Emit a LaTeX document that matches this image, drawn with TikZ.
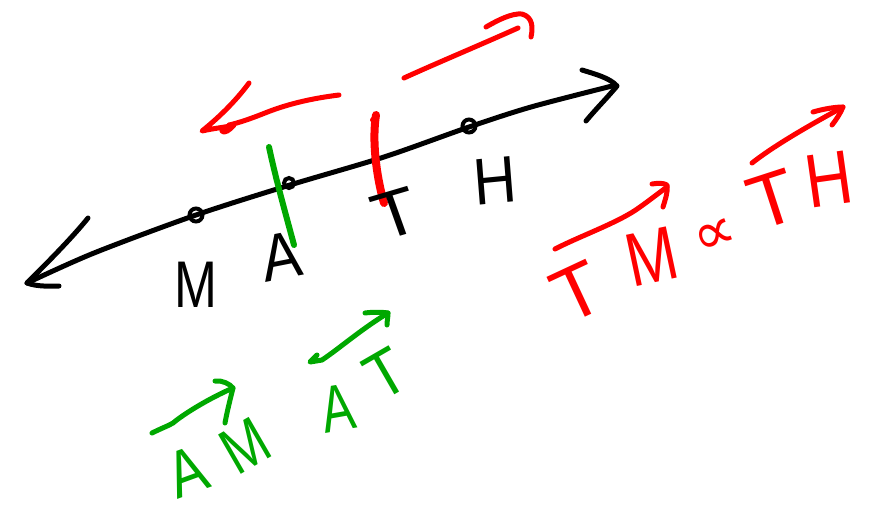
\documentclass[tikz,border=0pt]{standalone}
\usepackage{fontspec}
\setmainfont{Liberation Sans}
\newfontfamily\symfont{DejaVu Sans}
\definecolor{penred}{RGB}{255,0,0}
\definecolor{pengreen}{RGB}{0,168,0}
\tikzset{
  ink/.style={line width=5pt, line cap=round, line join=round},
  blk/.style={ink, black},
  rd/.style={ink, penred},
  gr/.style={ink, pengreen},
  lettr/.style={inner sep=0pt, font=\fontsize{66}{66}\selectfont},
  biglettr/.style={inner sep=0pt, font=\fontsize{76}{76}\selectfont},
  ptdot/.style={circle, draw=black, line width=4pt, inner sep=0pt, minimum size=13pt}
}
\begin{document}
\begin{tikzpicture}[x=1pt,y=-1pt]
\useasboundingbox (0,0) rectangle (872,512);
% main line
\draw[blk] plot[smooth] coordinates {(27,283) (94,253) (196,215) (290,185) (384,157) (469,127) (531,107) (612,86)};
% arrowheads
\draw[blk] (88,218) .. controls (72,238) and (45,265) .. (27,283) .. controls (38,287) and (50,286) .. (59,286);
\draw[blk] (582,70) .. controls (595,74) and (610,78) .. (617,86) .. controls (607,98) and (595,110) .. (586,121);
% points
\node[ptdot] (M) at (196,215) {};
\node[ptdot, minimum size=10pt] (A) at (289,183) {};
\node[ptdot] (H) at (469,126) {};
% ticks
\draw[gr, line width=6pt] (269,147) .. controls (276,180) and (286,215) .. (294,245);
\draw[rd, line width=8pt] (376,115) .. controls (372,140) and (376,175) .. (384,203);
\draw[rd, line width=4pt] (372,120) -- (377,114);
% letters on the line
\node[lettr, xscale=0.78] (tM) at (196,285) {M};
\node[lettr, xscale=0.9, rotate=10] (tA) at (281,256) {A};
\node[lettr, xscale=1.1, rotate=18] (tT) at (396,214) {T};
\node[lettr, xscale=0.9, rotate=5] (tH) at (495,181) {H};
% red arrows above the line
\draw[rd] (339,95) .. controls (315,98) and (290,103) .. (265,113) .. controls (250,119) and (238,123) .. (229,125);
\draw[rd] (249,83) .. controls (238,98) and (222,115) .. (202,131) .. controls (215,128) and (228,127) .. (234,125)
  .. controls (230,130) and (224,134) .. (222,131);
\draw[rd] (404,78) .. controls (430,66) and (480,45) .. (518,28);
\draw[rd] (486,27) .. controls (498,20) and (512,13) .. (522,14) .. controls (533,17) and (533,28) .. (531,37);
% red text
\node[biglettr, penred, rotate=25] (tT1) at (577,292) {T};
\node[biglettr, penred, rotate=12, xscale=0.8] (tM1) at (652,257) {M};
\node[inner sep=0pt, penred, rotate=20, font=\symfont\fontsize{60}{60}\selectfont] (prop) at (716,237) {∝};
\node[biglettr, penred, rotate=18] (tT2) at (772,199) {T};
\node[biglettr, penred, rotate=8, xscale=0.85] (tH2) at (829,179) {H};
\draw[rd] (555,249) .. controls (580,236) and (620,222) .. (640,207) .. controls (650,200) and (660,192) .. (667,187);
\draw[rd] (652,184) .. controls (658,183) and (664,183) .. (667,185) .. controls (668,193) and (665,200) .. (663,207);
\draw[rd] (752,163) .. controls (775,145) and (810,125) .. (843,107);
\draw[rd] (813,112) .. controls (823,109) and (835,107) .. (843,107) .. controls (840,114) and (836,120) .. (832,125);
% green text
\node[lettr, pengreen, rotate=20, xscale=0.85] (gA1) at (187,472) {A};
\node[lettr, pengreen, rotate=30, xscale=0.8] (gM1) at (245,446) {M};
\node[lettr, pengreen, rotate=10, xscale=0.75] (gA2) at (338,408) {A};
\node[lettr, pengreen, rotate=30, xscale=0.9] (gT2) at (386,374) {T};
\draw[gr] (152,433) .. controls (162,428) and (168,426) .. (173,423) .. controls (185,413) and (210,398) .. (233,388);
\draw[gr] (215,381) .. controls (222,380) and (230,384) .. (233,388) .. controls (230,400) and (227,412) .. (225,423);
\draw[gr] (317,355) -- (310,362) -- (322,360) .. controls (340,348) and (360,330) .. (388,313);
\draw[gr] (365,313) .. controls (372,312) and (382,312) .. (388,313) .. controls (388,317) and (387,321) .. (387,325);
\end{tikzpicture}
\end{document}
